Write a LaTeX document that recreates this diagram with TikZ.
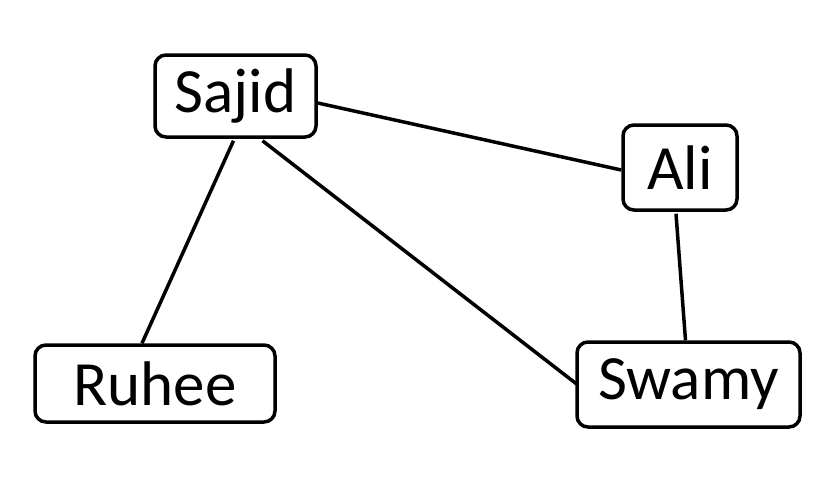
\documentclass[tikz,border=0pt]{standalone}
\usepackage{fontspec}
\setmainfont{Carlito}
\begin{document}
\begin{tikzpicture}[x=1pt,y=-1pt,
  person/.style={draw=black,line width=3.5pt,rounded corners=11pt,inner sep=0pt,
    font=\fontsize{63}{70}\selectfont},
  link/.style={draw=black,line width=3.5pt}]
\useasboundingbox (0,0) rectangle (839,477);
\node[person,minimum width=161pt,minimum height=82pt] (Sajid) at (235.5,96) {Sajid\hspace{6pt}};
\node[person,minimum width=114pt,minimum height=85pt] (Ali) at (680,167.5) {Ali};
\node[person,minimum width=240pt,minimum height=77pt] (Ruhee) at (155,383.5) {Ruhee\hspace{12pt}};
\node[person,minimum width=223pt,minimum height=85pt] (Swamy) at (688.5,384.5) {Swamy};
\draw[link] ([yshift=-7pt]Sajid.east) -- ([yshift=-2.5pt]Ali.west);
\draw[link] ([xshift=-2pt,yshift=-2pt]Sajid.south) -- ([xshift=-13pt]Ruhee.north);
\draw[link] ([xshift=27pt,yshift=-2pt]Sajid.south) -- ([xshift=2pt]Swamy.west);
\draw[link] ([xshift=-4pt,yshift=-2pt]Ali.south) -- ([xshift=-3pt]Swamy.north);
\end{tikzpicture}
\end{document}
